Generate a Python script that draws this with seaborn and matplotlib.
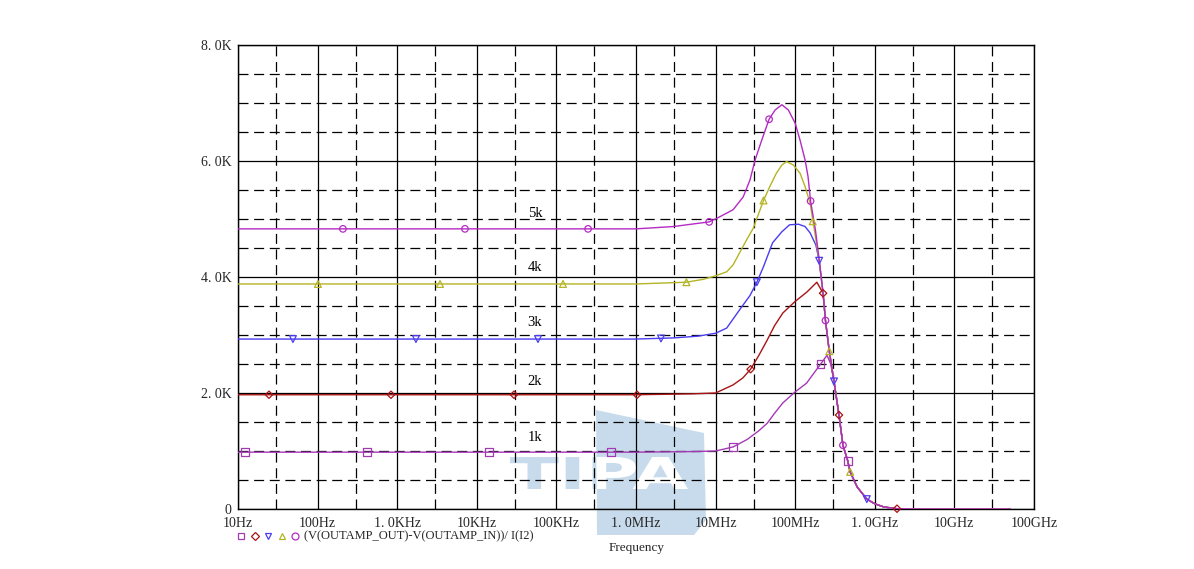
import numpy as np
import pandas as pd
import matplotlib
matplotlib.use("Agg")
import matplotlib.pyplot as plt
from matplotlib.lines import Line2D
from matplotlib.patches import Polygon, PathPatch
from matplotlib.textpath import TextPath
from matplotlib.font_manager import FontProperties
from matplotlib.transforms import Affine2D
import seaborn as sns

# ---------------- data ----------------
tail_f = [2.4e8, 2.68e8, 3.07e8, 3.55e8, 3.98e8, 4.57e8, 4.9e8, 6e8, 7.94e8, 1e9, 1.3e9, 1.9e9, 3e9, 5e10]
tail_v = [3250, 2720, 2200, 1620, 1100, 830, 640, 380, 170, 90, 35, 5, 0, 0]

f_5k = [10, 1e6, 2.95e6, 8.3e6, 1.03e7, 1.66e7, 2.22e7, 2.7e7, 3.14e7, 3.8e7, 4.7e7, 5.6e7, 6.8e7,
        8.2e7, 1e8, 1.15e8, 1.33e8, 1.45e8, 1.56e8, 1.8e8, 2.0e8, 2.24e8] + tail_f
v_5k = [4830, 4830, 4870, 4950, 5010, 5160, 5380, 5670, 6020, 6360, 6720, 6880, 6970,
        6880, 6650, 6360, 6020, 5730, 5310, 4800, 4300, 3720] + tail_v

f_4k = [10, 1e6, 4.3e6, 7e6, 1e7, 1.38e7, 1.66e7, 2.45e7, 2.97e7, 4e7, 4.8e7, 5.8e7, 6.8e7, 7.8e7,
        9.5e7, 1.15e8, 1.33e8, 1.54e8, 1.7e8, 2.0e8, 2.24e8] + tail_f
v_4k = [3880, 3880, 3910, 3960, 4020, 4090, 4210, 4640, 4840, 5320, 5560, 5790, 5930, 5990,
        5930, 5790, 5560, 5270, 4900, 4280, 3720] + tail_v

f_3k = [10, 1e6, 3e6, 6e6, 1e7, 1.38e7, 2.04e7, 2.7e7, 3.3e7, 4e7, 5.2e7, 6.8e7, 8.5e7, 1.1e8,
        1.33e8, 1.54e8, 1.82e8, 2.0e8, 2.24e8] + tail_f
v_3k = [2930, 2930, 2950, 2980, 3030, 3120, 3450, 3680, 3910, 4180, 4590, 4780, 4900, 4910,
        4870, 4760, 4550, 4280, 3720] + tail_v

f_2k = [10, 1e6, 5e6, 1e7, 1.66e7, 2.2e7, 2.75e7, 3.5e7, 4.4e7, 5.5e7, 7e7, 1e8, 1.4e8, 1.87e8,
        2.24e8] + tail_f
v_2k = [1970, 1970, 1985, 2000, 2140, 2260, 2410, 2650, 2900, 3160, 3380, 3580, 3740, 3910,
        3720] + tail_v

f_1k = [10, 1e6, 5e6, 1e7, 1.66e7, 2.5e7, 3.5e7, 4.46e7, 5.5e7, 7e7, 1e8, 1.39e8, 1.8e8, 2.09e8,
        2.51e8, 2.8e8] + tail_f[2:]
v_1k = [980, 980, 990, 1000, 1070, 1200, 1350, 1480, 1650, 1830, 2020, 2170, 2380, 2500,
        2650, 2500] + tail_v[2:]

# marker positions (frequency, value) per trace
mf_5k = [208, 7.1e3, 2.5e5, 8.3e6, 4.7e7, 1.56e8, 2.4e8, 3.98e8]
mv_5k = [4830, 4830, 4830, 4950, 6720, 5310, 3250, 1100]
mf_4k = [101, 3.45e3, 1.21e5, 4.3e6, 4e7, 1.66e8, 2.68e8, 4.9e8]
mv_4k = [3880, 3880, 3880, 3910, 5320, 4960, 2720, 640]
mf_3k = [49, 1.72e3, 5.87e4, 2.06e6, 3.3e7, 2.0e8, 3.07e8, 7.94e8]
mv_3k = [2930, 2930, 2930, 2940, 3910, 4280, 2200, 170]
mf_2k = [24.5, 836, 2.93e4, 1.03e6, 2.75e7, 2.24e8, 3.55e8, 1.9e9]
mv_2k = [1970, 1970, 1970, 1970, 2410, 3720, 1620, 5]
mf_1k = [12.2, 418, 1.42e4, 4.86e5, 1.66e7, 2.09e8, 4.57e8]
mv_1k = [980, 980, 980, 980, 1070, 2500, 830]

trace_names = ["1k", "2k", "3k", "4k", "5k"]
label_freq = [5.38e4] * 5
label_val = [1240, 2190, 3220, 4160, 5100]

x_ticks = [10, 100, 1e3, 1e4, 1e5, 1e6, 1e7, 1e8, 1e9, 1e10, 1e11]
x_labels = ["10Hz", "100Hz", "1. 0KHz", "10KHz", "100KHz", "1. 0MHz", "10MHz",
            "100MHz", "1. 0GHz", "10GHz", "100GHz"]
y_ticks = [0, 2000, 4000, 6000, 8000]
y_labels = ["0", "2. 0K", "4. 0K", "6. 0K", "8. 0K"]

legend_text = "(V(OUTAMP_OUT)-V(OUTAMP_IN))/ I(I2)"
x_title = "Frequency"
watermark_text = "TIPA"

# ---------------- style ----------------
sns.set_style("white")
plt.rcParams["font.family"] = ["Liberation Serif", "DejaVu Serif"]

W, H = 1194, 569
fig = plt.figure(figsize=(W / 100, H / 100), dpi=100)
ax = fig.add_axes([238 / W, 1 - 509 / H, (1034 - 238) / W, (509 - 45) / H])
ax.set_facecolor("none")


def px(x, y):
    return (x / W, 1 - y / H)


# watermark (behind the plot area)
wm_color = "#c8dbec"
tp = TextPath((0, 0), watermark_text, size=10, prop=FontProperties(family="DejaVu Sans", weight="bold"))
bb = tp.get_extents()
x0, x1, ytop, ybot = 510, 688, 457, 489
sx = (x1 - x0) / bb.width / W
sy = (ybot - ytop) / bb.height / H
tr = Affine2D().translate(-bb.x0, -bb.y0).scale(sx, sy).translate(x0 / W, 1 - ybot / H)
wm_path = tr.transform_path(tp)
fig.add_artist(PathPatch(wm_path, transform=fig.transFigure, facecolor=wm_color,
                         edgecolor="none", zorder=-3))
poly = Polygon([px(596, 410), px(704, 433), px(706, 520), px(694, 535), px(597, 535)],
               closed=True, transform=fig.transFigure, facecolor=wm_color,
               edgecolor="none", zorder=-2)
fig.add_artist(poly)
white_letters = PathPatch(wm_path, transform=fig.transFigure, facecolor="white",
                          edgecolor="none", zorder=-1)
fig.add_artist(white_letters)
white_letters.set_clip_path(poly)

colors = {"1k": "#a23ab4", "2k": "#a81414", "3k": "#4a3cf0", "4k": "#b4b424", "5k": "#b42ac4"}
markers = {"1k": "s", "2k": "D", "3k": "v", "4k": "^", "5k": "o"}
msize = {"1k": 30, "2k": 14, "3k": 24, "4k": 24, "5k": 22}

curves = {"1k": (f_1k, v_1k, mf_1k, mv_1k), "2k": (f_2k, v_2k, mf_2k, mv_2k),
          "3k": (f_3k, v_3k, mf_3k, mv_3k), "4k": (f_4k, v_4k, mf_4k, mv_4k),
          "5k": (f_5k, v_5k, mf_5k, mv_5k)}

for name in trace_names:
    f, v, mf, mv = curves[name]
    df = pd.DataFrame({"f": f, "v": v})
    sns.lineplot(data=df, x="f", y="v", ax=ax, color=colors[name], linewidth=1.0,
                 sort=True, estimator=None, zorder=3)
    dm = pd.DataFrame({"f": mf, "v": mv})
    sns.scatterplot(data=dm, x="f", y="v", ax=ax, marker=markers[name], s=msize[name],
                    facecolor="none", edgecolor=colors[name], linewidth=0.9,
                    zorder=4, clip_on=False)

for name, fx, vy in zip(trace_names, label_freq, label_val):
    ax.text(fx, vy, name, fontsize=10.5, ha="center", va="center", color="black")

ax.set_xscale("log")
ax.set_xlim(10, 1e11)
ax.set_ylim(0, 8000)

ax.set_xticks(x_ticks)
ax.set_xticklabels(x_labels)
ax.set_xticks([3 * t for t in x_ticks[:-1]], minor=True)
ax.set_yticks(y_ticks)
ax.set_yticklabels(y_labels)
ax.set_yticks([v for v in np.arange(500, 8000, 500) if v % 2000 != 0], minor=True)

ax.grid(which="major", color="black", linestyle="-", linewidth=0.9, zorder=1)
ax.grid(which="minor", color="black", linestyle=(0, (8, 4.5)), linewidth=0.9, zorder=1)
ax.set_axisbelow(True)

ax.tick_params(axis="both", which="major", direction="out", length=4, width=0.9,
               labelsize=10, color="black")
ax.tick_params(axis="y", pad=0.5)
ax.tick_params(axis="x", pad=2)
ax.tick_params(axis="both", which="minor", length=0)
ax.tick_params(axis="x", bottom=False)
for s in ax.spines.values():
    s.set_visible(True)
    s.set_color("black")
    s.set_linewidth(1.0)
ax.set_xlabel("")
ax.set_ylabel("")

# legend row below the plot
leg_y = 1 - 536 / H
for xpx, name in zip([241, 255, 268, 282, 295], trace_names):
    fig.add_artist(Line2D([xpx / W], [leg_y], marker=markers[name], linestyle="none",
                          markersize=5 if name != "2k" else 4, markerfacecolor="none",
                          markeredgecolor=colors[name], markeredgewidth=0.9,
                          transform=fig.transFigure))
fig.text(304 / W, leg_y, legend_text, fontsize=9, ha="left", va="center")
fig.text(637 / W, 1 - 548 / H, x_title, fontsize=9.5, ha="center", va="center")

fig.savefig("out.png", dpi=100)
